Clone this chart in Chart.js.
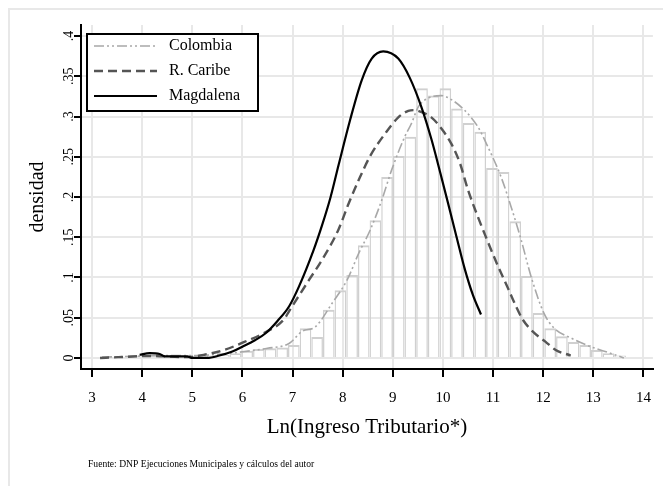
<!DOCTYPE html>
<html>
<head>
<meta charset="utf-8">
<script src="https://cdn.jsdelivr.net/npm/chart.js@4.4.1/dist/chart.umd.min.js"></script>
<style>
  html, body { margin: 0; padding: 0; background: #fff; }
  #wrap { width: 663px; height: 486px; }
</style>
</head>
<body>
<div id="wrap"><canvas id="grafico" width="663" height="486"></canvas></div>
<script>
// histograma Colombia (centros de clase y densidad)
const binCenters = [3.306, 3.539, 3.771, 4.004, 4.236, 4.469, 4.701, 4.934, 5.166, 5.399,
  5.631, 5.864, 6.096, 6.329, 6.561, 6.794, 7.026, 7.259, 7.491, 7.724,
  7.956, 8.189, 8.421, 8.654, 8.886, 9.119, 9.351, 9.584, 9.816, 10.049,
  10.281, 10.514, 10.746, 10.979, 11.211, 11.444, 11.676, 11.909, 12.141, 12.374,
  12.606, 12.839, 13.071, 13.304, 13.536];
const binDensity = [0.001, 0.001, 0.002, 0.003, 0.004, 0.003, 0.002, 0.002, 0.002, 0.003,
  0.004, 0.006, 0.009, 0.011, 0.012, 0.013, 0.016, 0.037, 0.026, 0.060,
  0.084, 0.103, 0.140, 0.171, 0.225, 0.251, 0.275, 0.335, 0.326, 0.335,
  0.310, 0.292, 0.281, 0.236, 0.231, 0.170, 0.102, 0.056, 0.037, 0.027,
  0.020, 0.016, 0.010, 0.006, 0.003];

// densidades kernel
const colombiaX = [3.2, 3.8, 4.4, 5.0, 5.6, 6.04, 6.5, 6.93, 7.19, 7.46, 7.79, 8.09, 8.32, 8.55, 8.78,
  8.98, 9.24, 9.37, 9.51, 9.71, 9.97, 10.17, 10.43, 10.70, 10.90, 11.16, 11.36, 11.56, 11.76,
  12.02, 12.22, 12.55, 12.95, 13.34, 13.61];
const colombiaY = [0.001, 0.002, 0.003, 0.003, 0.005, 0.008, 0.012, 0.018, 0.033, 0.039, 0.068, 0.097, 0.130, 0.159, 0.196,
  0.234, 0.275, 0.291, 0.312, 0.323, 0.326, 0.321, 0.308, 0.287, 0.262, 0.225, 0.188, 0.147, 0.101,
  0.055, 0.037, 0.025, 0.014, 0.006, 0.0];

const caribeX = [3.16, 3.52, 4.18, 4.85, 5.24, 5.64, 6.04, 6.43, 6.83, 6.93, 7.33, 7.59, 7.92, 8.12, 8.32,
  8.55, 8.85, 9.11, 9.31, 9.44, 9.51, 9.77, 9.97, 10.17, 10.34, 10.50, 10.70, 10.86, 11.10,
  11.29, 11.46, 11.59, 11.79, 12.05, 12.25, 12.55];
const caribeY = [0.0, 0.001, 0.0025, 0.001, 0.004, 0.010, 0.020, 0.031, 0.048, 0.058, 0.097, 0.122, 0.160, 0.192, 0.221,
  0.251, 0.279, 0.299, 0.307, 0.308, 0.307, 0.299, 0.285, 0.266, 0.242, 0.209, 0.175, 0.150, 0.114,
  0.088, 0.064, 0.048, 0.033, 0.020, 0.010, 0.003];

const magdalenaX = [3.95, 4.15, 4.35, 4.45, 4.9, 5.0, 5.3, 5.54, 5.8, 6.0, 6.25, 6.47, 6.7, 6.93, 7.13,
  7.42, 7.59, 7.76, 7.92, 8.15, 8.38, 8.58, 8.81, 9.11, 9.34, 9.57, 9.77, 9.94, 10.10,
  10.27, 10.43, 10.60, 10.76];
const magdalenaY = [0.004, 0.006, 0.005, 0.002, 0.002, 0.0, 0.0, 0.003, 0.008, 0.014, 0.022, 0.031, 0.046, 0.064, 0.089,
  0.134, 0.165, 0.200, 0.240, 0.296, 0.345, 0.372, 0.381, 0.372, 0.348, 0.312, 0.272, 0.232, 0.193,
  0.151, 0.112, 0.078, 0.054];

const xTicks = [3, 4, 5, 6, 7, 8, 9, 10, 11, 12, 13, 14];
const yTicks = [0, 0.05, 0.1, 0.15, 0.2, 0.25, 0.3, 0.35, 0.4];
const yTickLabels = ['0', '.05', '.1', '.15', '.2', '.25', '.3', '.35', '.4'];

const serif = 'Liberation Serif';

function puntos(xs, ys) {
  return xs.map((x, i) => ({ x: x, y: ys[i] }));
}

// fondo y marco exterior
const fondo = {
  id: 'fondo',
  beforeDraw(chart) {
    const ctx = chart.ctx;
    ctx.save();
    ctx.fillStyle = '#fff';
    ctx.fillRect(0, 0, chart.width, chart.height);
    ctx.strokeStyle = '#e8e8e8';
    ctx.lineWidth = 2;
    ctx.strokeRect(9, 9, chart.width + 20, chart.height + 20);
    ctx.restore();
  }
};

// leyenda dentro del grafico + nota de fuente
const leyenda = {
  id: 'leyenda',
  afterDraw(chart) {
    const ctx = chart.ctx;
    ctx.save();
    ctx.fillStyle = '#fff';
    ctx.fillRect(87, 34, 171, 77);
    ctx.strokeStyle = '#000';
    ctx.lineWidth = 2;
    ctx.strokeRect(87, 34, 171, 77);
    const items = chart.data.datasets.filter(d => d.type === 'line');
    items.forEach((d, i) => {
      const y = 46 + i * 25;
      ctx.beginPath();
      ctx.strokeStyle = d.borderColor;
      ctx.lineWidth = d.borderWidth;
      ctx.setLineDash(d.borderDash || []);
      ctx.moveTo(94, y);
      ctx.lineTo(157, y);
      ctx.stroke();
      ctx.setLineDash([]);
      ctx.fillStyle = '#000';
      ctx.font = '16px "' + serif + '"';
      ctx.textBaseline = 'middle';
      ctx.textAlign = 'left';
      ctx.fillText(d.label, 169, y);
    });
    ctx.font = '9.6px "' + serif + '"';
    ctx.fillStyle = '#000';
    ctx.textBaseline = 'middle';
    ctx.fillText('Fuente: DNP Ejecuciones Municipales y cálculos del autor', 88, 464);
    ctx.restore();
  }
};

const config = {
  data: {
    datasets: [
      {
        type: 'line',
        label: 'Colombia',
        data: puntos(colombiaX, colombiaY),
        borderColor: '#a8a8a8',
        borderWidth: 1.6,
        borderDash: [10, 3, 2, 3, 2, 3],
        pointRadius: 0,
        cubicInterpolationMode: 'monotone',
        order: 3
      },
      {
        type: 'line',
        label: 'R. Caribe',
        data: puntos(caribeX, caribeY),
        borderColor: '#555555',
        borderWidth: 2.4,
        borderDash: [9, 5],
        pointRadius: 0,
        cubicInterpolationMode: 'monotone',
        order: 2
      },
      {
        type: 'line',
        label: 'Magdalena',
        data: puntos(magdalenaX, magdalenaY),
        borderColor: '#000000',
        borderWidth: 2.2,
        pointRadius: 0,
        cubicInterpolationMode: 'monotone',
        order: 1
      },
      {
        type: 'bar',
        label: 'hist',
        data: puntos(binCenters, binDensity),
        backgroundColor: 'rgba(255,255,255,0)',
        borderColor: '#d0d0d0',
        borderWidth: { top: 2, left: 1.3, right: 1.3, bottom: 0 },
        borderSkipped: false,
        inflateAmount: 0,
        barPercentage: 1,
        categoryPercentage: 1,
        order: 4
      }
    ]
  },
  options: {
    responsive: false,
    animation: false,
    devicePixelRatio: 1,
    layout: { padding: { left: 8, right: 7, top: 25, bottom: 0 } },
    plugins: {
      legend: { display: false },
      tooltip: { enabled: false }
    },
    scales: {
      x: {
        type: 'linear',
        offset: false,
        min: 2.78,
        max: 14.19,
        afterBuildTicks(scale) { scale.ticks = xTicks.map(v => ({ value: v })); },
        afterFit(scale) { scale.height = 117; },
        grid: { offset: false, color: '#e8e8e8', lineWidth: 2, tickColor: '#000', tickLength: 8, tickWidth: 2 },
        border: { display: true, color: '#000', width: 2 },
        ticks: {
          color: '#000', font: { family: serif, size: 15 }, padding: 12,
          maxRotation: 0, autoSkip: false
        },
        title: {
          display: true, text: 'Ln(Ingreso Tributario*)', color: '#000',
          font: { family: serif, size: 21 }, padding: { top: 0, bottom: 46 }
        }
      },
      y: {
        type: 'linear',
        min: -0.0137,
        max: 0.4137,
        afterBuildTicks(scale) { scale.ticks = yTicks.map(v => ({ value: v })); },
        afterFit(scale) { scale.width = 73; },
        grid: { color: '#e8e8e8', lineWidth: 2, tickColor: '#000', tickLength: 7, tickWidth: 2 },
        border: { display: true, color: '#000', width: 2 },
        ticks: {
          color: '#000', font: { family: serif, size: 14 }, padding: -4,
          minRotation: 90, maxRotation: 90, crossAlign: 'center', autoSkip: false,
          callback: (v, i) => yTickLabels[i]
        },
        title: {
          display: true, text: 'densidad', color: '#000',
          font: { family: serif, size: 20 }, padding: { top: 18, bottom: 0 }
        }
      }
    }
  },
  plugins: [fondo, leyenda]
};

new Chart(document.getElementById('grafico'), config);
</script>
</body>
</html>
